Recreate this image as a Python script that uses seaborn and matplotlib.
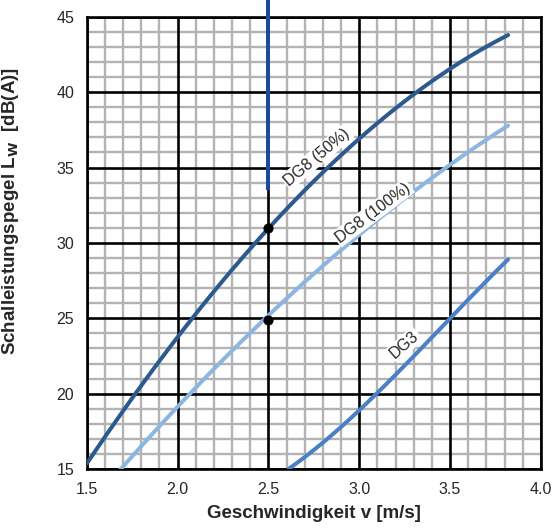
import numpy as np
import pandas as pd
import matplotlib
matplotlib.use("Agg")
import matplotlib.pyplot as plt
import seaborn as sns
from matplotlib.ticker import MultipleLocator

v_50 = [1.5, 1.6, 1.75, 2.0, 2.25, 2.5, 2.75, 3.0, 3.25, 3.5, 3.82]
lw_50 = [15.4, 17.1, 19.8, 23.6, 27.4, 31.0, 34.3, 37.0, 39.3, 41.35, 43.9]

v_100 = [1.665, 2.0, 2.25, 2.5, 2.75, 3.0, 3.25, 3.5, 3.82]
lw_100 = [15.0, 18.95, 21.95, 24.9, 28.0, 30.9, 33.2, 35.2, 37.55]

v_dg3 = [2.612, 2.8, 3.0, 3.1, 3.3, 3.5, 3.82]
lw_dg3 = [15.0, 16.8, 18.9, 20.0, 22.5, 25.0, 28.9]

curve_names = ["DG8 (50%)", "DG8 (100%)", "DG3"]
fit_deg = {"DG8 (50%)": 3, "DG8 (100%)": 2, "DG3": 3}
op_v = [2.5, 2.5]
op_lw = [31.0, 24.9]
marker_v = 2.5
marker_from = 33.5

x_major = [1.5, 2.0, 2.5, 3.0, 3.5, 4.0]
y_major = [15, 20, 25, 30, 35, 40, 45]

df = pd.concat([
    pd.DataFrame({"v": v_50, "lw": lw_50, "curve": curve_names[0]}),
    pd.DataFrame({"v": v_100, "lw": lw_100, "curve": curve_names[1]}),
    pd.DataFrame({"v": v_dg3, "lw": lw_dg3, "curve": curve_names[2]}),
])

# smooth the read points a little for drawing
rows = []
for name, g in df.groupby("curve", sort=False):
    xs = np.linspace(g.v.min(), g.v.max(), 120)
    coef = np.polyfit(g.v, g.lw, fit_deg[name])
    rows.append(pd.DataFrame({"v": xs, "lw": np.polyval(coef, xs), "curve": name}))
smooth = pd.concat(rows)

sns.set_style("white")
plt.rcParams["font.family"] = ["Liberation Sans", "DejaVu Sans"]

fig = plt.figure(figsize=(5.53, 5.28), dpi=100)
ax = fig.add_axes([0.157, 0.1117, 0.821, 0.8565])

pal = {"DG8 (50%)": "#2d5a8e", "DG8 (100%)": "#8cb6e2", "DG3": "#4a80c6"}
sns.lineplot(data=smooth, x="v", y="lw", hue="curve", palette=pal, linewidth=2.9,
             legend=False, ax=ax, zorder=4, sort=False)

ax.plot([marker_v, marker_v], [marker_from, 46.2], color="#1c4aa0", lw=2.9,
        clip_on=False, zorder=5, solid_capstyle="butt")
sns.scatterplot(x=op_v, y=op_lw, color="black", s=45, ax=ax, zorder=6, edgecolor="black")

ax.set_xlim(1.5, 4.0)
ax.set_ylim(15, 45)
ax.set_xticks(x_major)
ax.set_yticks(y_major)
ax.xaxis.set_minor_locator(MultipleLocator(0.1))
ax.yaxis.set_minor_locator(MultipleLocator(1))
ax.set_xticklabels([f"{t:.1f}" for t in x_major])
ax.grid(which="minor", color="#b3b3b3", lw=1.7)
ax.set_axisbelow(True)
# black major grid on top of the grey minor grid
for xv in x_major:
    ax.axvline(xv, color="black", lw=1.9, zorder=1)
for yv in y_major:
    ax.axhline(yv, color="black", lw=1.9, zorder=1)
for s in ax.spines.values():
    s.set_color("black")
    s.set_linewidth(1.9)
ax.tick_params(which="major", length=4, width=1.9, color="black", labelsize=11.5, pad=5)
ax.tick_params(which="minor", length=0)

lab = dict(fontsize=11.5, ha="center", va="center", zorder=7,
           bbox=dict(facecolor="white", edgecolor="none", pad=1.0))
ax.text(2.767, 35.7, "DG8 (50%)", rotation=40, **lab)
ax.text(3.075, 32.0, "DG8 (100%)", rotation=37, **lab)
ax.text(3.25, 23.25, "DG3", rotation=41, **lab)

ax.set_xlabel("Geschwindigkeit v [m/s]", fontsize=13.5, fontweight="bold", labelpad=6)
ax.set_ylabel(r"Schalleistungspegel L$_\mathbf{W}$  [dB(A)]", fontsize=13.5,
              fontweight="bold")
ax.yaxis.set_label_coords(-0.145, 0.571)

fig.savefig("out.png", dpi=100)
